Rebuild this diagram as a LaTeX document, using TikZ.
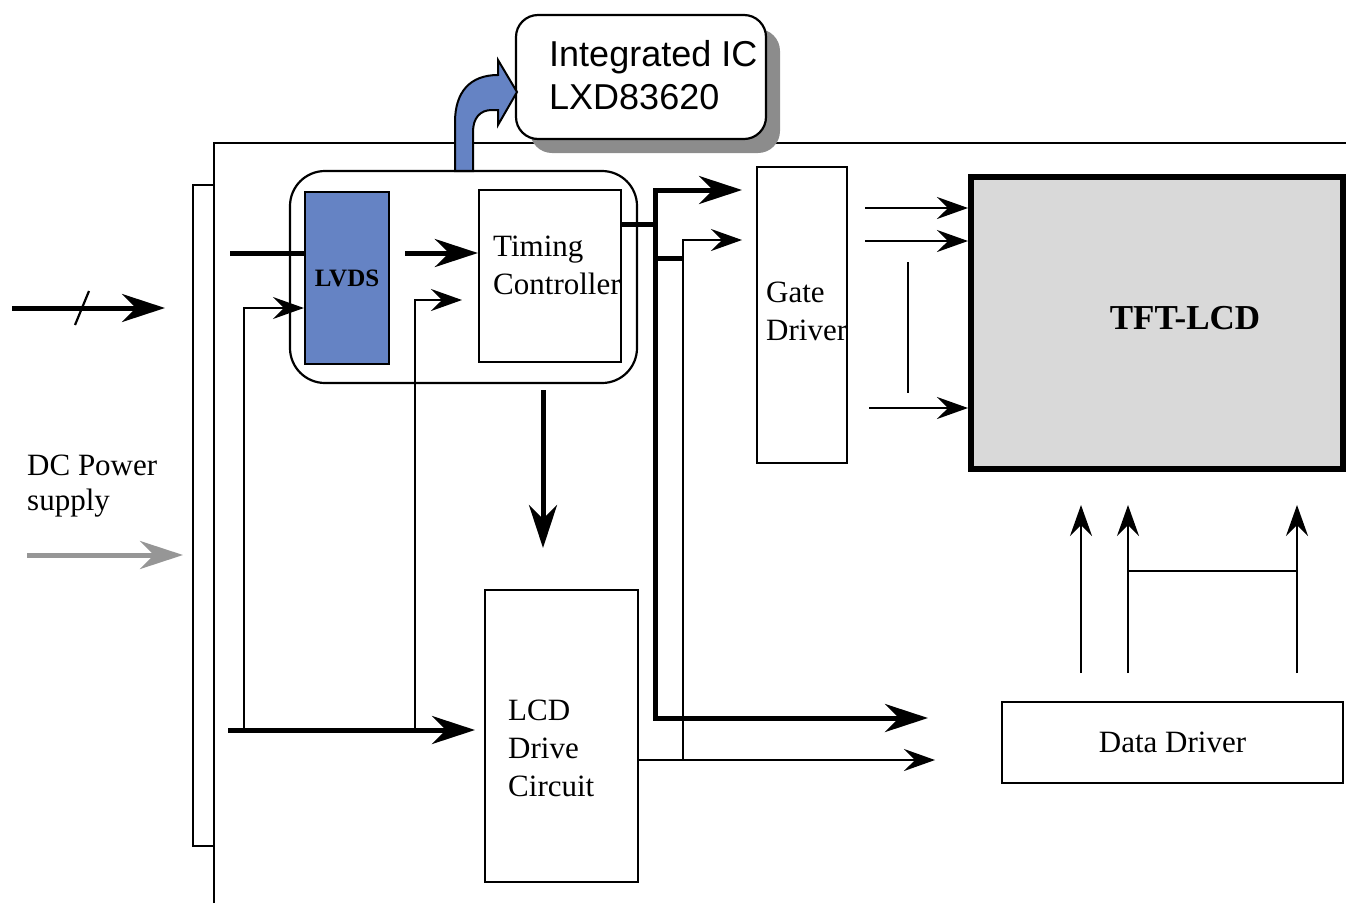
\documentclass[tikz,border=0pt]{standalone}
\usepackage{fontspec}
\setmainfont{Liberation Serif}
\newfontfamily\icfont{Liberation Sans}
\usetikzlibrary{arrows.meta,shadows}
\definecolor{lvdsblue}{RGB}{101,131,196}
\definecolor{panelgray}{RGB}{217,217,217}
\definecolor{dcgray}{RGB}{150,150,150}
\definecolor{shadowgray}{RGB}{140,140,140}

\begin{document}
\begin{tikzpicture}[x=1pt,y=-1pt,
  box/.style={draw, line width=2.2pt, inner sep=0pt},
  txt/.style={inner sep=0pt, align=left, font=\fontsize{31}{38}\selectfont},
  thickline/.style={line width=5pt},
  thinline/.style={line width=2.2pt},
  bigtip/.style={-{Stealth[length=43pt,width=28pt,inset=14pt]}},
  smalltip/.style={-{Stealth[length=31pt,width=22pt,inset=11pt]}}]
\useasboundingbox (0,0) rectangle (1346,903);

% frame and connector strip
\draw [line width=2pt] (214,903) |- (1346,143);
\draw [line width=2pt] (214,185) -| (193,846) -- (214,846);

% integrated IC
\node [box, rounded corners=22pt, minimum width=250pt, minimum height=124pt, fill=white,
  drop shadow={shadow xshift=14pt, shadow yshift=-14pt, fill=shadowgray, opacity=1}] (ic) at (641,77) {};
\node [inner sep=0pt, align=left, anchor=west, font=\icfont\fontsize{36}{43}\selectfont] (ictxt) at (549,75) {Integrated IC\\LXD83620};
\draw [line width=2pt, fill=lvdsblue] (455,171) -- (455,122) .. controls (455,92) and (470,75) .. (498,75)
  -- (498,60) -- (517,92) -- (498,125) -- (498,110) -- (492,110)
  .. controls (480,110) and (473,118) .. (473,132) -- (473,171) -- cycle;

% controller block
\node [box, rounded corners=35pt, minimum width=347pt, minimum height=212pt] (ctrl) at (463.5,277) {};
\node [box, fill=lvdsblue, minimum width=84pt, minimum height=172pt, font=\bfseries\fontsize{25}{30}\selectfont] (lvds) at (347,278) {LVDS};
\node [box, minimum width=142pt, minimum height=172pt] (tcon) at (550,276) {};
\node [txt, anchor=west] (tcontxt) at (493,265) {Timing\\Controller};

% other blocks
\node [box, minimum width=153pt, minimum height=292pt] (lcd) at (561.5,736) {};
\node [txt, anchor=west] (lcdtxt) at (508,748) {LCD\\Drive\\Circuit};
\node [box, minimum width=90pt, minimum height=296pt] (gate) at (802,315) {};
\node [txt, anchor=west] (gatetxt) at (766,311) {Gate\\Driver};
\node [box, line width=6pt, fill=panelgray, minimum width=372pt, minimum height=292pt] (tft) at (1157,323) {};
\node [inner sep=0pt, font=\bfseries\fontsize{35}{40}\selectfont] (tfttxt) at (1185,318) {TFT-LCD};
\node [box, minimum width=341pt, minimum height=81pt, font=\fontsize{31}{38}\selectfont] (data) at (1172.5,742.5) {Data Driver};
\node [txt, anchor=west, font=\fontsize{31}{35}\selectfont] (dctxt) at (27,486) {DC Power\\supply};

% inputs
\coordinate (sigin) at (12,308);
\coordinate (sigend) at (165,308);
\draw [thickline, bigtip] (sigin) -- (sigend);
\coordinate (slash) at (82,308);
\draw [thinline] ([shift={(-7,17)}]slash) -- ([shift={(7,-17)}]slash);
\coordinate (dcin) at (27,555);
\coordinate (dcend) at (183,555);
\draw [line width=5pt, dcgray, bigtip] (dcin) -- (dcend);

% lvds and power lines
\coordinate (lvdsin) at (230,253);
\draw [thickline] (lvdsin) -- (lvdsin -| lvds.west);
\coordinate (lt) at (405,253);
\draw [thickline, bigtip] (lt) -- (lt -| tcon.west);
\coordinate (pw) at (228,730);
\coordinate (lcdin) at (475,730);
\draw [thickline, bigtip] (pw) -- (lcdin);
\coordinate (tapA) at (244,730);
\coordinate (tapB) at (415,730);
\draw [thinline, smalltip] (tapA) |- ([yshift=-30pt]lvds.west);
\coordinate (tconpw) at (462,300);
\draw [thinline, smalltip] (tapB) |- (tconpw);
\coordinate (dn) at (543,390);
\draw [thickline, bigtip] (dn) -- ++(0,158);

% timing bus
\coordinate (tout) at (655,224);
\draw [thickline] (tout -| tcon.east) -- (tout);
\coordinate (busT) at (655,190);
\coordinate (busB) at (655,718);
\coordinate (gatea) at (742,190);
\coordinate (dda) at (928,718);
\draw [thickline, bigtip] (busB) |- (gatea);
\draw [thickline, bigtip] (busT) |- (dda);
\coordinate (tap) at (655,258);
\draw [thickline] (tap) -- ++(28,0);
\coordinate (lcdout) at (935,760);
\draw [thinline, smalltip] (lcd.east |- lcdout) -- (lcdout);
\coordinate (tapD) at (683,760);
\coordinate (gateb) at (742,240);
\draw [thinline, smalltip] (tapD) |- (gateb);

% gate lines
\foreach \x/\y/\n in {865/208/1, 865/241/2, 869/408/3} {
  \coordinate (gt\n) at (\x,\y);
  \draw [thinline, smalltip] (gt\n) -- (gt\n -| tft.west);
}
\draw [thinline] (908,262) -- (908,393);

% data lines
\foreach \x/\n in {1081/1, 1128/2, 1297/3} {
  \coordinate (dd\n) at (\x,673);
  \draw [thinline, smalltip] (dd\n) -- ++(0,-168);
}
\draw [thinline] (1128,571) -- (1297,571);
\end{tikzpicture}
\end{document}
